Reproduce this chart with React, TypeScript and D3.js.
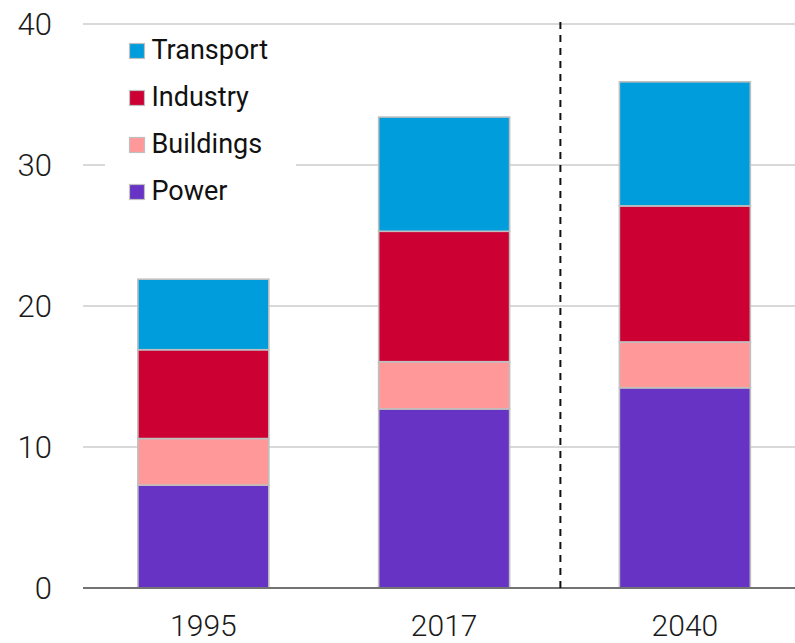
import React from "react";
import * as d3 from "d3";

const categories = ["1995", "2017", "2040"];
const seriesNames = ["Power", "Buildings", "Industry", "Transport"];
const power = [7.3, 12.7, 14.2];
const buildings = [3.3, 3.35, 3.25];
const industry = [6.3, 9.25, 9.65];
const transport = [5.0, 8.1, 8.8];
const yTicks = [0, 10, 20, 30, 40];
const legendOrder = ["Transport", "Industry", "Buildings", "Power"];

const colors: Record<string, string> = {
  Power: "#6633C4",
  Buildings: "#FF9999",
  Industry: "#CC0033",
  Transport: "#009DDC",
};

const W = 795;
const H = 643;
const FONT = "Roboto, 'Liberation Sans', sans-serif";

export default function App() {
  const rows = categories.map((c, i) => ({
    cat: c,
    Power: power[i],
    Buildings: buildings[i],
    Industry: industry[i],
    Transport: transport[i],
  }));
  const stack = d3.stack<any>().keys(seriesNames)(rows);

  const x = d3
    .scaleBand<string>()
    .domain(categories)
    .range([83, 805.25])
    .paddingInner(0.456)
    .paddingOuter(0.228);
  const y = d3.scaleLinear().domain([0, 40]).range([588, 24]);

  const dashX = (x("2040") as number) - 59;

  return (
    <svg
      width={W}
      height={H}
      style={{ position: "absolute", left: 0, top: 0, background: "#fff" }}
      fontFamily={FONT}
    >
      {yTicks.map((t) =>
        t === 0 ? null : (
          <line key={t} x1={83} x2={W} y1={y(t)} y2={y(t)} stroke="#d9d9d9" strokeWidth={2} />
        )
      )}
      {yTicks.map((t) => (
        <text
          key={"l" + t}
          x={52}
          y={y(t) + 11}
          textAnchor="end"
          fontSize={31}
          fontWeight={300}
          fill="#1a1a1a"
        >
          {t}
        </text>
      ))}
      {stack.map((s) =>
        s.map((d, i) => (
          <rect
            key={s.key + i}
            x={x(categories[i]) as number}
            width={x.bandwidth()}
            y={y(d[1])}
            height={y(d[0]) - y(d[1])}
            fill={colors[s.key]}
            stroke="#bfbfbf"
            strokeWidth={1.6}
          />
        ))
      )}
      <line x1={83} x2={W} y1={y(0)} y2={y(0)} stroke="#737373" strokeWidth={2} />
      <line
        x1={dashX}
        x2={dashX}
        y1={22}
        y2={590}
        stroke="#111"
        strokeWidth={2}
        strokeDasharray="7 6"
      />
      {categories.map((c) => (
        <text
          key={"x" + c}
          x={(x(c) as number) + x.bandwidth() / 2}
          y={636}
          textAnchor="middle"
          fontSize={30}
          fontWeight={300}
          fill="#1a1a1a"
        >
          {c}
        </text>
      ))}
      <rect x={105} y={30} width={191} height={180} fill="#fff" />
      {legendOrder.map((k, i) => (
        <g key={"lg" + k} transform={`translate(129, ${43 + i * 47})`}>
          <rect x={0.5} y={0.5} width={15} height={15} fill={colors[k]} stroke="#bfbfbf" strokeWidth={1.2} />
          <text x={22.5} y={15.5} fontSize={27} fill="#111">
            {k}
          </text>
        </g>
      ))}
    </svg>
  );
}
